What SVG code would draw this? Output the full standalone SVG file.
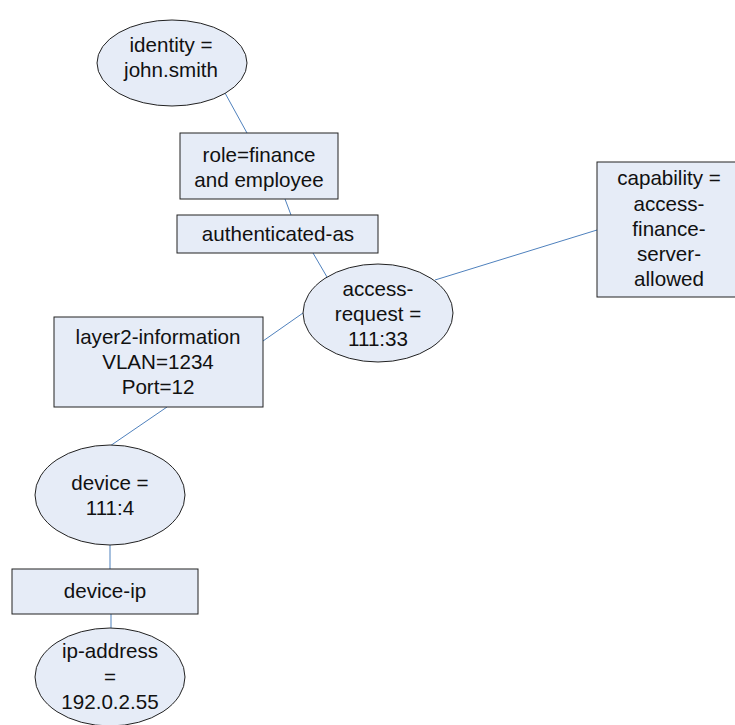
<svg xmlns="http://www.w3.org/2000/svg" width="735" height="725" viewBox="0 0 735 725">
<style>
.n{fill:#e6ecf7;stroke:#222;stroke-width:1}
.t{font-family:"Liberation Sans",Arial,sans-serif;font-size:20.6px;fill:#111;text-anchor:middle}
.c{stroke:#4f81bd;stroke-width:1;fill:none}
</style>
<rect width="735" height="725" fill="#fff"/>
<g id="connectors">
<line class="c" x1="225" y1="93" x2="247" y2="133"/>
<line class="c" x1="285" y1="199" x2="291" y2="215"/>
<line class="c" x1="313" y1="253" x2="327" y2="277"/>
<line class="c" x1="435" y1="280" x2="597" y2="230"/>
<line class="c" x1="263" y1="341" x2="303" y2="313"/>
<line class="c" x1="167" y1="407" x2="110" y2="446"/>
<line class="c" x1="110" y1="545" x2="110" y2="569"/>
<line class="c" x1="111" y1="614" x2="111" y2="628"/>
</g>
<g id="identity">
<ellipse class="n" cx="172" cy="63" rx="75" ry="43"/>
<text class="t" x="171" y="52">identity =</text>
<text class="t" x="171" y="77">john.smith</text>
</g>
<g id="role">
<rect class="n" x="180" y="133" width="158" height="66"/>
<text class="t" x="259" y="162">role=finance</text>
<text class="t" x="259" y="187">and employee</text>
</g>
<g id="authenticated-as">
<rect class="n" x="177" y="215" width="201" height="38"/>
<text class="t" x="278" y="241">authenticated-as</text>
</g>
<g id="access-request">
<ellipse class="n" cx="378" cy="313" rx="75" ry="49"/>
<text class="t" x="378" y="296">access-</text>
<text class="t" x="378" y="321">request =</text>
<text class="t" x="378" y="346">111:33</text>
</g>
<g id="capability">
<rect class="n" x="597" y="162" width="140" height="135"/>
<text class="t" x="669" y="185">capability =</text>
<text class="t" x="669" y="211">access-</text>
<text class="t" x="669" y="236">finance-</text>
<text class="t" x="669" y="261">server-</text>
<text class="t" x="669" y="286">allowed</text>
</g>
<g id="layer2-information">
<rect class="n" x="54" y="317" width="209" height="90"/>
<text class="t" x="158" y="344">layer2-information</text>
<text class="t" x="158" y="369">VLAN=1234</text>
<text class="t" x="158" y="394">Port=12</text>
</g>
<g id="device">
<ellipse class="n" cx="110" cy="495" rx="75" ry="50"/>
<text class="t" x="110" y="490">device =</text>
<text class="t" x="110" y="515">111:4</text>
</g>
<g id="device-ip">
<rect class="n" x="12" y="569" width="186" height="45"/>
<text class="t" x="105" y="598">device-ip</text>
</g>
<g id="ip-address">
<ellipse class="n" cx="110" cy="677" rx="75" ry="49"/>
<text class="t" x="110" y="658">ip-address</text>
<text class="t" x="110" y="684">=</text>
<text class="t" x="110" y="709">192.0.2.55</text>
</g>
</svg>
